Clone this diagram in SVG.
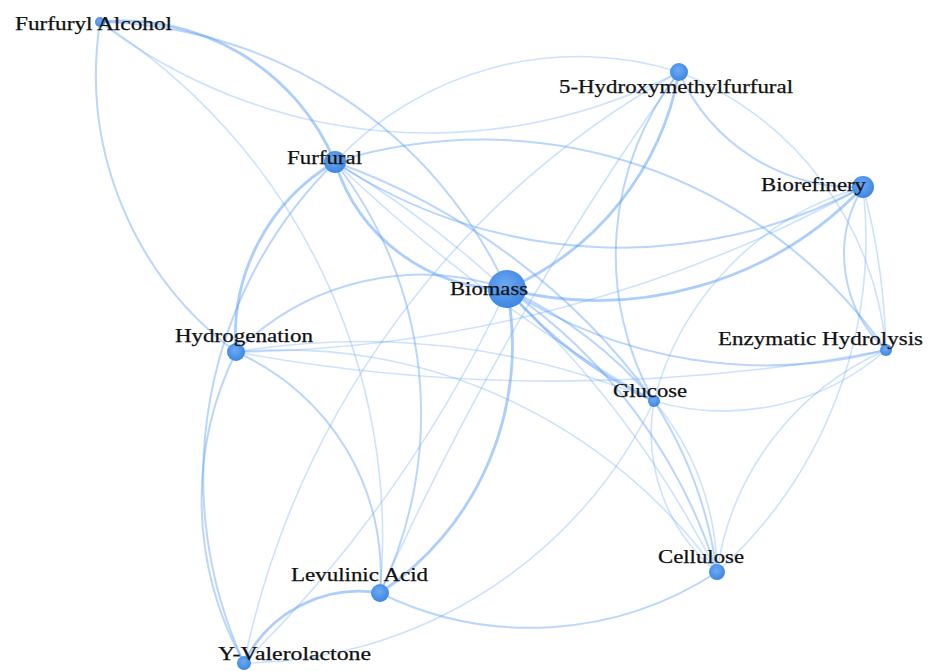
<svg xmlns="http://www.w3.org/2000/svg" width="928" height="671" viewBox="0 0 928 671">
<style>
.e{fill:none;stroke:#5b9ef7;stroke-linecap:round}
.t{stroke-width:1.6;stroke-opacity:.3}
.m{stroke-width:2;stroke-opacity:.42}
.k{stroke-width:2.8;stroke-opacity:.5}
.n{fill:url(#ng)}
.l{font-family:"Liberation Serif","Times New Roman",serif;font-size:19px;fill:#111;stroke:#111;stroke-width:.25}
</style>
<defs>
<radialGradient id="ng" cx="45%" cy="40%" r="60%">
<stop offset="0" stop-color="#6eaaf3"/>
<stop offset="1" stop-color="#3d86e2"/>
</radialGradient>
</defs>
<rect width="928" height="671" fill="#fff"/>
<g id="connectors">
<path class="e m" d="M100 22 A345 345 0 0 0 236 352"/>
<path class="e k" d="M100 22 A231 231 0 0 1 335 162"/>
<path class="e m" d="M100 22 A458 458 0 0 1 507 289"/>
<path class="e t" d="M100 22 A543 543 0 0 0 679 72"/>
<path class="e t" d="M100 22 A610 610 0 0 1 380 593"/>
<path class="e k" d="M335 162 A202 202 0 0 0 236 352"/>
<path class="e m" d="M335 162 A443 443 0 0 0 244 663"/>
<path class="e m" d="M236 352 A335 335 0 0 0 244 663"/>
<path class="e m" d="M236 352 A242 242 0 0 1 380 593"/>
<path class="e k" d="M244 663 A128 128 0 0 1 380 593"/>
<path class="e k" d="M335 162 A181 181 0 0 0 507 289"/>
<path class="e m" d="M335 162 A411 411 0 0 1 380 593"/>
<path class="e t" d="M335 162 A334 334 0 0 1 679 72"/>
<path class="e k" d="M679 72 A294 294 0 0 1 507 289"/>
<path class="e m" d="M679 72 A297 297 0 0 0 654 401"/>
<path class="e m" d="M679 72 A193 193 0 0 0 863 187"/>
<path class="e t" d="M679 72 A328 328 0 0 1 886 350"/>
<path class="e k" d="M863 187 A367 367 0 0 1 507 289"/>
<path class="e m" d="M335 162 A517 517 0 0 0 863 187"/>
<path class="e m" d="M335 162 A493 493 0 0 1 886 350"/>
<path class="e m" d="M335 162 A675 675 0 0 1 654 401"/>
<path class="e t" d="M335 162 A1656 1656 0 0 0 654 401"/>
<path class="e t" d="M335 162 A1000 1000 0 0 1 717 572"/>
<path class="e k" d="M507 289 A428 428 0 0 0 654 401"/>
<path class="e m" d="M507 289 A428 428 0 0 1 654 401"/>
<path class="e m" d="M507 289 A537 537 0 0 1 717 572"/>
<path class="e m" d="M507 289 A478 478 0 0 0 886 350"/>
<path class="e t" d="M236 352 A1770 1770 0 0 0 886 350"/>
<path class="e t" d="M654 401 A247 247 0 0 0 886 350"/>
<path class="e t" d="M654 401 A180 180 0 0 0 717 572"/>
<path class="e m" d="M654 401 A424 424 0 0 1 717 572"/>
<path class="e t" d="M654 401 A270 270 0 0 1 717 572"/>
<path class="e t" d="M886 350 A286 286 0 0 0 717 572"/>
<path class="e t" d="M863 187 A449 449 0 0 1 717 572"/>
<path class="e m" d="M863 187 A130 130 0 0 0 886 350"/>
<path class="e t" d="M863 187 A691 691 0 0 1 886 350"/>
<path class="e t" d="M863 187 A1332 1332 0 0 1 236 352"/>
<path class="e t" d="M863 187 A299 299 0 0 0 654 401"/>
<path class="e t" d="M679 72 A882 882 0 0 0 244 663"/>
<path class="e t" d="M507 289 A1310 1310 0 0 1 244 663"/>
<path class="e k" d="M507 289 A297 297 0 0 1 380 593"/>
<path class="e t" d="M679 72 A3040 3040 0 0 0 380 593"/>
<path class="e t" d="M244 663 A459 459 0 0 0 654 401"/>
<path class="e m" d="M380 593 A341 341 0 0 0 717 572"/>
<path class="e t" d="M236 352 A535 535 0 0 1 717 572"/>
<path class="e t" d="M236 352 A750 750 0 0 1 654 401"/>
<path class="e m" d="M236 352 A262 262 0 0 1 507 289"/>
</g>
<g id="node-furfuryl-alcohol"><circle class="n" cx="100" cy="22" r="5"/><text class="l" x="15" y="30" textLength="157" lengthAdjust="spacingAndGlyphs">Furfuryl Alcohol</text></g>
<g id="node-hmf"><circle class="n" cx="679" cy="72" r="9"/><text class="l" x="559" y="93" textLength="234" lengthAdjust="spacingAndGlyphs">5-Hydroxymethylfurfural</text></g>
<g id="node-furfural"><circle class="n" cx="335" cy="162" r="11"/><text class="l" x="287" y="164" textLength="75" lengthAdjust="spacingAndGlyphs">Furfural</text></g>
<g id="node-biorefinery"><circle class="n" cx="863" cy="187" r="11"/><text class="l" x="761" y="191" textLength="105" lengthAdjust="spacingAndGlyphs">Biorefinery</text></g>
<g id="node-biomass"><circle class="n" cx="507" cy="289" r="19"/><text class="l" x="450" y="295" textLength="78" lengthAdjust="spacingAndGlyphs">Biomass</text></g>
<g id="node-hydrogenation"><circle class="n" cx="236" cy="352" r="9"/><text class="l" x="175" y="342" textLength="138" lengthAdjust="spacingAndGlyphs">Hydrogenation</text></g>
<g id="node-enzymatic-hydrolysis"><circle class="n" cx="886" cy="350" r="6"/><text class="l" x="718" y="345" textLength="205" lengthAdjust="spacingAndGlyphs">Enzymatic Hydrolysis</text></g>
<g id="node-glucose"><circle class="n" cx="654" cy="401" r="6"/><text class="l" x="613" y="397" textLength="74" lengthAdjust="spacingAndGlyphs">Glucose</text></g>
<g id="node-cellulose"><circle class="n" cx="717" cy="572" r="8"/><text class="l" x="658" y="563" textLength="86" lengthAdjust="spacingAndGlyphs">Cellulose</text></g>
<g id="node-levulinic-acid"><circle class="n" cx="380" cy="593" r="9"/><text class="l" x="291" y="581" textLength="137" lengthAdjust="spacingAndGlyphs">Levulinic Acid</text></g>
<g id="node-gvl"><circle class="n" cx="244" cy="663" r="7"/><text class="l" x="218" y="660" textLength="153" lengthAdjust="spacingAndGlyphs">Y-Valerolactone</text></g>
</svg>
